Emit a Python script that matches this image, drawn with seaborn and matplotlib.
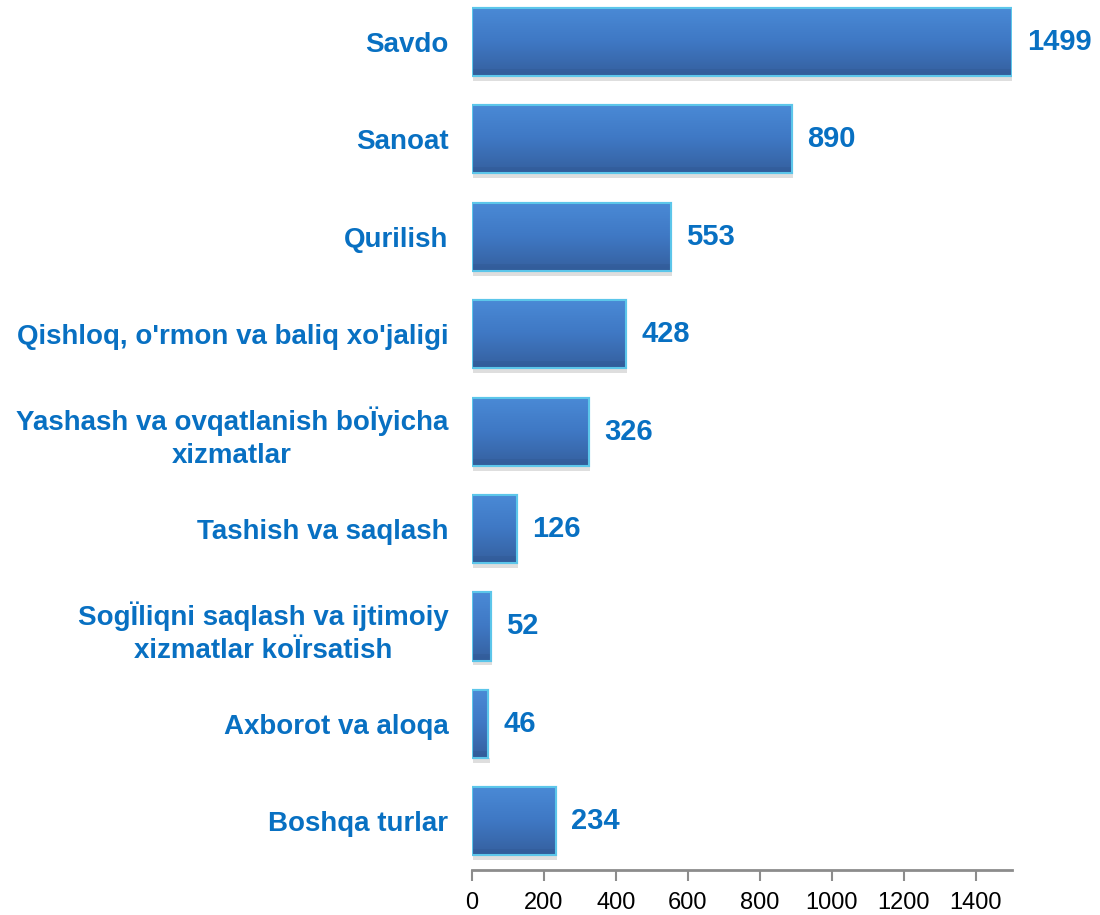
import numpy as np
import pandas as pd
import seaborn as sns
import matplotlib.pyplot as plt
from matplotlib.colors import LinearSegmentedColormap

categories = ["Savdo", "Sanoat", "Qurilish", "Qishloq, o'rmon va baliq xo'jaligi",
              "Yashash va ovqatlanish boÏyicha\nxizmatlar", "Tashish va saqlash",
              "SogÏliqni saqlash va ijtimoiy\nxizmatlar koÏrsatish", "Axborot va aloqa",
              "Boshqa turlar"]
values = [1499, 890, 553, 428, 326, 126, 52, 46, 234]
xticks = [0, 200, 400, 600, 800, 1000, 1200, 1400]

df = pd.DataFrame({'cat': categories, 'val': values})

sns.set_theme(style='white')
plt.rcParams['font.family'] = ['Liberation Sans', 'DejaVu Sans']

blue_txt = '#0870c2'

fig = plt.figure(figsize=(11, 9.15), dpi=100)
ax = fig.add_axes([0.429, 0.0492, 0.491, 0.9508])

sns.barplot(data=df, x='val', y='cat', orient='h', color='#3f78c4',
            width=0.7, saturation=1, edgecolor='#5cc6ea', linewidth=1.5, ax=ax)

# gradient fill on each bar, light on top, darker at bottom
cmap = LinearSegmentedColormap.from_list('bar', ['#4a8ad6', '#3f78c4', '#35609f'])
grad = np.linspace(0, 1, 64).reshape(-1, 1)
for p in ax.patches:
    x0, y0 = p.get_x(), p.get_y()
    w, h = p.get_width(), p.get_height()
    # soft shadow below
    ax.add_patch(plt.Rectangle((x0 + 3, y0 + h), w, 0.05, color='#c8c8c8',
                               alpha=0.6, lw=0, zorder=1))
    im = ax.imshow(grad, cmap=cmap, aspect='auto', extent=(x0, x0 + w, y0 + h, y0),
                   zorder=p.get_zorder() + 0.1)
    im.set_clip_path(p)
    ax.add_patch(plt.Rectangle((x0, y0), w, h, fill=False, edgecolor='#5cc6ea',
                               lw=1.5, zorder=p.get_zorder() + 0.2))
    ax.add_patch(plt.Rectangle((x0, y0 + h * 0.9), w, h * 0.1, color='#2f5690',
                               alpha=0.35, lw=0, zorder=p.get_zorder() + 0.15))

for i, v in enumerate(values):
    ax.text(v + 42, i, str(v), va='center', ha='left', fontsize=21,
            fontweight='bold', color=blue_txt)

ax.set_xlim(0, 1500)
ax.set_ylim(8.5, -0.431)
ax.set_xticks(xticks)
ax.set_xlabel('')
ax.set_ylabel('')
ax.tick_params(axis='y', length=0, pad=17)
ax.tick_params(axis='x', bottom=True, length=8, width=1.5, color='#8c8c8c',
               pad=8, labelsize=17)
for lab in ax.get_yticklabels():
    lab.set_fontsize(20)
    lab.set_fontweight('bold')
    lab.set_color(blue_txt)
    lab.set_multialignment('center')
    lab.set_linespacing(1.35)
for lab in ax.get_xticklabels():
    lab.set_color('black')

for s in ['top', 'right', 'left']:
    ax.spines[s].set_visible(False)
ax.spines['bottom'].set_color('#8c8c8c')
ax.spines['bottom'].set_linewidth(2)

fig.savefig('out.png', dpi=100)
